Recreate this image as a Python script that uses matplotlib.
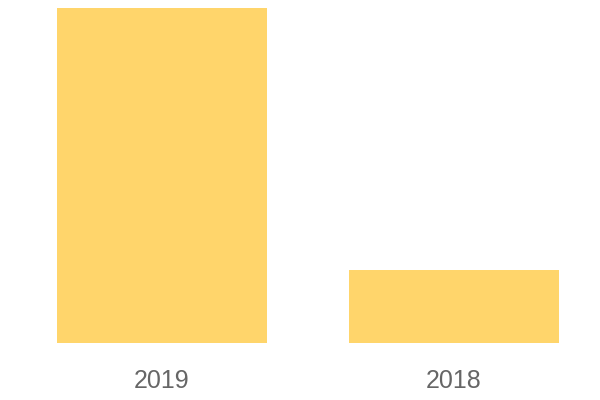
import matplotlib.pyplot as plt

years = ["2019", "2018"]
values = [335, 73]

fig = plt.figure(figsize=(6, 4), dpi=100)
ax = fig.add_axes([0, 57 / 400, 1, 335 / 400])
ax.bar(range(len(years)), values, width=210 / 292, color="#FFD56B")
ax.set_xlim(-162 / 292, 438 / 292)
ax.set_ylim(0, 335)
ax.set_xticks(range(len(years)))
ax.set_xticklabels(years, fontsize=18, color="#666666", family="Liberation Sans")
ax.tick_params(axis="x", length=0, pad=19)
ax.set_yticks([])
for s in ax.spines.values():
    s.set_visible(False)
fig.savefig("out.png")
